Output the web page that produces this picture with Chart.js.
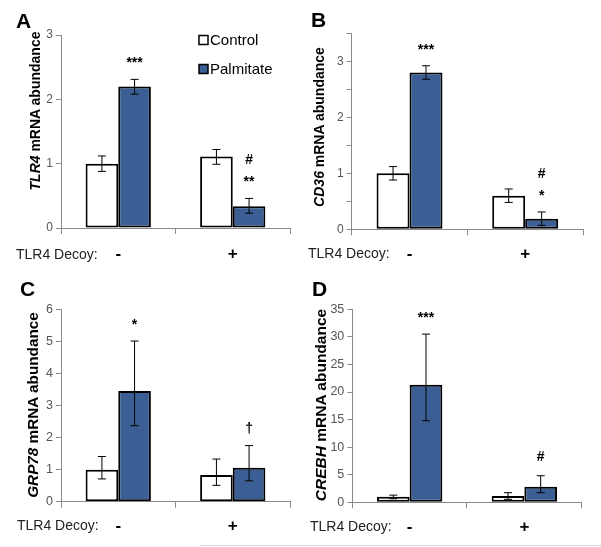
<!DOCTYPE html>
<html lang="en">
<head>
    <meta charset="UTF-8">
    <title>TLR4 decoy panels</title>
    <script src="https://cdn.jsdelivr.net/npm/chart.js"></script>
    <style>
        body {
            margin: 0;
            background: #fff;
            font-family: Arial, "Liberation Sans", sans-serif;
        }
        .fig { position: relative; width: 601px; height: 547px; overflow: hidden; }
        .panel { position: absolute; }
        .letter { position: absolute; font-weight: bold; font-size: 21px; color: #000; line-height: 1; }
        .ytitle {
            position: absolute;
            font-weight: bold;
            font-size: 14px;
            color: #000;
            white-space: nowrap;
            transform: translate(-50%, -50%) rotate(-90deg);
        }
        .decoy { position: absolute; font-size: 14px; color: #222; white-space: nowrap; line-height: 1; }
        .rule { position: absolute; left: 200px; top: 545px; width: 401px; height: 1px; background: #d8d8d8; }
    </style>
</head>
<body>
<div class="fig">
    <canvas id="chartA" class="panel" width="300" height="275" style="left:0;top:0"></canvas>
    <canvas id="chartB" class="panel" width="301" height="275" style="left:300px;top:0"></canvas>
    <canvas id="chartC" class="panel" width="300" height="267" style="left:0;top:280px"></canvas>
    <canvas id="chartD" class="panel" width="301" height="267" style="left:300px;top:280px"></canvas>

    <div class="letter" style="left:16px;top:10px">A</div>
    <div class="letter" style="left:311px;top:9px">B</div>
    <div class="letter" style="left:20px;top:278px">C</div>
    <div class="letter" style="left:312px;top:278px">D</div>

    <div class="ytitle" style="left:35px;top:111px"><i>TLR4</i> mRNA abundance</div>
    <div class="ytitle" style="left:319px;top:127px"><i>CD36</i> mRNA abundance</div>
    <div class="ytitle" style="left:33px;top:405px;font-size:15.3px"><i>GRP78</i> mRNA abundance</div>
    <div class="ytitle" style="left:321px;top:405px;font-size:15.5px"><i>CREBH</i> mRNA abundance</div>

    <div class="decoy" style="left:16px;top:247px">TLR4 Decoy:</div>
    <div class="decoy" style="left:308px;top:246px">TLR4 Decoy:</div>
    <div class="decoy" style="left:17px;top:518px">TLR4 Decoy:</div>
    <div class="decoy" style="left:310px;top:519px">TLR4 Decoy:</div>

    <div class="rule"></div>
</div>

<script>
    // categories and series
    const decoy = ['-', '+'];
    const seriesNames = ['Control', 'Palmitate'];
    const seriesColors = ['#ffffff', '#3b5f94'];

    // A: TLR4
    const tlr4Control = [1.0, 1.11];
    const tlr4ControlHi = [1.12, 1.22];
    const tlr4ControlLo = [0.88, 0.99];
    const tlr4Palm = [2.2, 0.34];
    const tlr4PalmHi = [2.31, 0.46];
    const tlr4PalmLo = [2.08, 0.23];
    const tlr4Marks = [[[], []], [['***'], ['**', '#']]];

    // B: CD36
    const cd36Control = [1.0, 0.6];
    const cd36ControlHi = [1.12, 0.72];
    const cd36ControlLo = [0.88, 0.48];
    const cd36Palm = [2.8, 0.19];
    const cd36PalmHi = [2.92, 0.31];
    const cd36PalmLo = [2.68, 0.07];
    const cd36Marks = [[[], []], [['***'], ['*', '#']]];

    // C: GRP78
    const grp78Control = [1.0, 0.83];
    const grp78ControlHi = [1.41, 1.33];
    const grp78ControlLo = [0.71, 0.51];
    const grp78Palm = [3.45, 1.06];
    const grp78PalmHi = [5.01, 1.75];
    const grp78PalmLo = [2.37, 0.65];
    const grp78Marks = [[[], []], [['*'], ['\u2020']]];

    // D: CREBH
    const crebhControl = [1.0, 1.14];
    const crebhControlHi = [1.3, 1.74];
    const crebhControlLo = [0.65, 0.54];
    const crebhPalm = [21.3, 2.83];
    const crebhPalmHi = [30.5, 4.82];
    const crebhPalmLo = [14.8, 1.74];
    const crebhMarks = [[[], []], [['***'], ['#']]];

    // y axis ranges
    const yMaxA = 3, yStepA = 1;
    const yMaxB = 3.5, yStepB = 0.5;
    const yMaxC = 6, yStepC = 1;
    const yMaxD = 35, yStepD = 5;

    const errorBarPlugin = {
        id: 'errorBars',
        afterDatasetsDraw(chart, args, opts) {
            const ctx = chart.ctx;
            const y = chart.scales.y;
            ctx.save();
            chart.data.datasets.forEach((ds, i) => {
                const meta = chart.getDatasetMeta(i);
                meta.data.forEach((bar, j) => {
                    const top = y.getPixelForValue(ds.hi[j]);
                    const bot = y.getPixelForValue(ds.lo[j]);
                    ctx.strokeStyle = '#000';
                    ctx.lineWidth = 1;
                    ctx.beginPath();
                    ctx.moveTo(bar.x, top);
                    ctx.lineTo(bar.x, bot);
                    ctx.moveTo(bar.x - 4, top);
                    ctx.lineTo(bar.x + 4, top);
                    ctx.moveTo(bar.x - 4, bot);
                    ctx.lineTo(bar.x + 4, bot);
                    ctx.stroke();

                    // significance marks stacked above the error bar
                    const marks = ds.marks[j] || [];
                    ctx.fillStyle = '#000';
                    ctx.font = 'bold 14px Arial';
                    ctx.textAlign = 'center';
                    ctx.textBaseline = 'middle';
                    marks.forEach((m, k) => {
                        const off = m === '#' ? 3 : 0;
                        ctx.fillText(m, bar.x, top - 16 - k * 19 - off);
                    });
                });
            });

            if (opts.legend) {
                const lx = 199, ly = [40, 69];
                chart.data.datasets.forEach((ds, i) => {
                    ctx.fillStyle = ds.backgroundColor;
                    ctx.fillRect(lx, ly[i] - 4.5, 9, 9);
                    ctx.strokeStyle = '#000';
                    ctx.lineWidth = 1.5;
                    ctx.strokeRect(lx, ly[i] - 4.5, 9, 9);
                    ctx.fillStyle = '#000';
                    ctx.font = '15px Arial';
                    ctx.textAlign = 'left';
                    ctx.textBaseline = 'middle';
                    ctx.fillText(ds.label, lx + 11, ly[i] + 1);
                });
            }
            ctx.restore();
        }
    };

    function makePanel(id, ctrl, ctrlHi, ctrlLo, palm, palmHi, palmLo, marks, yMax, yStep, layout, legend) {
        const ctx = document.getElementById(id).getContext('2d');
        return new Chart(ctx, {
            type: 'bar',
            data: {
                labels: decoy,
                datasets: [
                    { label: seriesNames[0], data: ctrl, hi: ctrlHi, lo: ctrlLo, marks: marks[0],
                      backgroundColor: seriesColors[0], borderColor: '#000', borderWidth: 2, borderSkipped: false },
                    { label: seriesNames[1], data: palm, hi: palmHi, lo: palmLo, marks: marks[1],
                      backgroundColor: seriesColors[1], borderColor: '#000', borderWidth: 2, borderSkipped: false }
                ]
            },
            options: {
                responsive: false,
                animation: false,
                categoryPercentage: 0.57,
                barPercentage: 1,
                layout: { padding: { left: 0, right: layout.right, top: layout.top, bottom: 0 } },
                plugins: {
                    legend: { display: false },
                    tooltip: { enabled: false },
                    errorBars: { legend: legend }
                },
                scales: {
                    x: {
                        grid: { drawOnChartArea: false, color: '#8a8a8a', tickLength: 6 },
                        border: { color: '#8a8a8a', width: 1 },
                        ticks: { color: '#000', font: { size: 17, weight: 'bold', family: 'Arial' }, padding: layout.xPad },
                        afterFit: s => { s.height = layout.xh; }
                    },
                    y: {
                        min: 0,
                        max: yMax,
                        grid: { drawOnChartArea: false, color: '#8a8a8a', tickLength: 5 },
                        border: { color: '#8a8a8a', width: 1 },
                        ticks: {
                            stepSize: yStep,
                            color: '#555',
                            padding: 3,
                            font: { size: layout.yFont, family: 'Arial' },
                            callback: v => (Number.isInteger(v) ? v : '')
                        },
                        afterFit: s => { s.width = layout.left; }
                    }
                }
            },
            plugins: [errorBarPlugin]
        });
    }

    makePanel('chartA', tlr4Control, tlr4ControlHi, tlr4ControlLo, tlr4Palm, tlr4PalmHi, tlr4PalmLo, tlr4Marks,
        yMaxA, yStepA, { left: 61, right: 10, top: 35, xh: 47, xPad: 10, yFont: 12 }, true);
    makePanel('chartB', cd36Control, cd36ControlHi, cd36ControlLo, cd36Palm, cd36PalmHi, cd36PalmLo, cd36Marks,
        yMaxB, yStepB, { left: 51.7, right: 18, top: 33.3, xh: 45.7, xPad: 9, yFont: 12 }, false);
    makePanel('chartC', grp78Control, grp78ControlHi, grp78ControlLo, grp78Palm, grp78PalmHi, grp78PalmLo, grp78Marks,
        yMaxC, yStepC, { left: 61, right: 10, top: 29.3, xh: 45.3, xPad: 8, yFont: 12.5 }, false);
    makePanel('chartD', crebhControl, crebhControlHi, crebhControlLo, crebhPalm, crebhPalmHi, crebhPalmLo, crebhMarks,
        yMaxD, yStepD, { left: 52.3, right: 19.3, top: 29.3, xh: 44.7, xPad: 9, yFont: 12.5 }, false);
</script>
</body>
</html>
